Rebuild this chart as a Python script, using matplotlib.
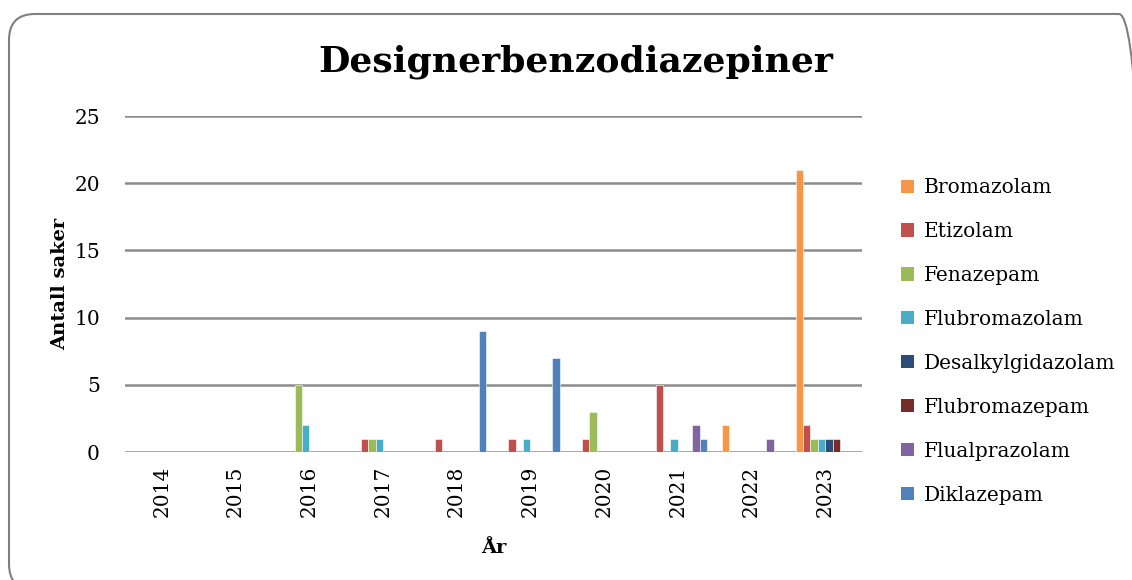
import matplotlib
matplotlib.use("Agg")
from matplotlib import pyplot as plt
from matplotlib.patches import Patch, FancyBboxPatch
from matplotlib.transforms import IdentityTransform
import numpy as np

# data
years = ["2014", "2015", "2016", "2017", "2018", "2019", "2020", "2021", "2022", "2023"]
series_names = ["Bromazolam", "Etizolam", "Fenazepam", "Flubromazolam",
                "Desalkylgidazolam", "Flubromazepam", "Flualprazolam", "Diklazepam"]
bromazolam = [0, 0, 0, 0, 0, 0, 0, 0, 2, 21]
etizolam = [0, 0, 0, 1, 1, 1, 1, 5, 0, 2]
fenazepam = [0, 0, 5, 1, 0, 0, 3, 0, 0, 1]
flubromazolam = [0, 0, 2, 1, 0, 1, 0, 1, 0, 1]
desalkylgidazolam = [0, 0, 0, 0, 0, 0, 0, 0, 0, 1]
flubromazepam = [0, 0, 0, 0, 0, 0, 0, 0, 0, 1]
flualprazolam = [0, 0, 0, 0, 0, 0, 0, 2, 1, 0]
diklazepam = [0, 0, 0, 0, 9, 7, 0, 1, 0, 0]
colors = ["#F79646", "#C0504D", "#9BBB59", "#4BACC6",
          "#2C4D75", "#772C2A", "#8064A2", "#4F81BD"]

all_series = [bromazolam, etizolam, fenazepam, flubromazolam,
              desalkylgidazolam, flubromazepam, flualprazolam, diklazepam]

plt.rcParams["font.family"] = ["DejaVu Serif"]

fig = plt.figure(figsize=(11.32, 5.8), dpi=100)
ax = fig.add_axes([125 / 1132, 1 - 452 / 580, (862 - 125) / 1132, (452 - 116) / 580])

x = np.arange(len(years))
bar_w = 0.1
n = len(all_series)
for i, (vals, c) in enumerate(zip(all_series, colors)):
    ax.bar(x + (i - (n - 1) / 2) * bar_w, vals, width=bar_w, color=c,
           edgecolor="white", linewidth=0.4, zorder=3)

ax.set_xlim(-0.5, len(years) - 0.5)
ax.set_ylim(0, 25)
ax.set_yticks(range(0, 26, 5))
ax.set_xticks(x)
ax.set_xticklabels(years, rotation=90, fontsize=14.5)
ax.tick_params(axis="y", labelsize=14.5, length=0, pad=18)
ax.tick_params(axis="x", length=0, pad=10)
ax.grid(axis="y", color="#8c8c8c", linewidth=1.8, zorder=0)
for s in ax.spines.values():
    s.set_visible(False)

ax.set_ylabel("Antall saker", fontsize=14, fontweight="bold", labelpad=4)
ax.set_xlabel("År", fontsize=14, fontweight="bold", labelpad=16)

fig.text(576 / 1132, 1 - 62 / 580, "Designerbenzodiazepiner", ha="center", va="center",
         fontsize=26, fontweight="bold")

handles = [Patch(facecolor=c, edgecolor="none") for c in colors]
fig.legend(handles, series_names, loc="upper left",
           bbox_to_anchor=(883 / 1132, 1 - 160 / 580), frameon=False,
           fontsize=14.5, handlelength=0.62, handleheight=0.62, handletextpad=0.5,
           labelspacing=1.24)

# rounded chart border, drawn in pixel coordinates
border = FancyBboxPatch((9, -10), 1136, 576,
                        boxstyle="round,pad=0,rounding_size=26",
                        transform=IdentityTransform(), facecolor="none",
                        edgecolor="#7f7f7f", linewidth=1.5, clip_on=False)
fig.patches.append(border)

fig.savefig("out.png", dpi=100)
